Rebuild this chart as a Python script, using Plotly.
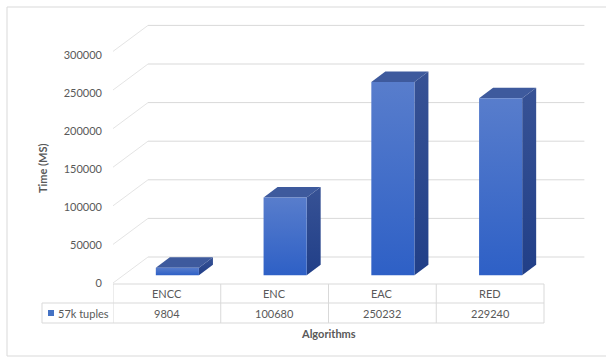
import plotly.graph_objects as go

# ---- data ----
algorithms = ["ENCC", "ENC", "EAC", "RED"]
times_57k = [9804, 100680, 250232, 229240]
series_name = "57k tuples"
y_ticks = [0, 50000, 100000, 150000, 200000, 250000, 300000]

# ---- geometry of the pseudo-3D view ----
W, H = 606, 358
PLOT_LEFT = 113          # px, front-left corner of the floor
FLOOR_FRONT = 283        # px, front edge of the floor (value 0)
PX_PER_CAT = 107.75
UNITS_PER_PX = 50000 / 38.6
LABEL_UNITS_PER_PX = 50000 / 38.0    # tick labels sit on the front edge
DEPTH_X = 35 / PX_PER_CAT            # category units across full depth
DEPTH_Y = 26 * UNITS_PER_PX          # value units across full depth
BAR_FRONT, BAR_BACK = 0.30, 0.70     # bar depth (fraction of floor)
BAR_HALF = 0.20

TEXT = "#595959"
GRID = "#D9D9D9"
FONT = "Lato"


def proj(x, v, d):
    return x + DEPTH_X * d, v + DEPTH_Y * d


def poly(points):
    xs, ys = [], []
    for x, v, d in points + [points[0]]:
        px, py = proj(x, v, d)
        xs.append(px)
        ys.append(py)
    return xs, ys


def px2paper(px, py):
    return px / W, 1 - py / H


fig = go.Figure()

# walls: side-wall diagonals and back-wall gridlines
n_cat = len(algorithms)
for v in y_ticks:
    xs, ys = poly([(-0.5, v, 0), (-0.5, v, 1)])
    fig.add_trace(go.Scatter(x=xs[:2], y=ys[:2], mode="lines",
                             line=dict(color="#E4E4E4", width=1), hoverinfo="skip"))
    xs, ys = poly([(-0.5, v, 1), (n_cat - 0.45, v, 1)])
    fig.add_trace(go.Scatter(x=xs[:2], y=ys[:2], mode="lines",
                             line=dict(color=GRID, width=1), hoverinfo="skip"))

# bars
for i, v in enumerate(times_57k):
    x0, x1 = i - BAR_HALF, i + BAR_HALF
    # right side face
    xs, ys = poly([(x1, 0, BAR_FRONT), (x1, 0, BAR_BACK), (x1, v, BAR_BACK), (x1, v, BAR_FRONT)])
    fig.add_trace(go.Scatter(x=xs, y=ys, mode="lines", fill="toself", line=dict(width=0),
                             fillgradient=dict(type="vertical",
                                               colorscale=[[0, "#213F88"], [1, "#375295"]]),
                             hoverinfo="skip"))
    # top face
    xs, ys = poly([(x0, v, BAR_FRONT), (x1, v, BAR_FRONT), (x1, v, BAR_BACK), (x0, v, BAR_BACK)])
    fig.add_trace(go.Scatter(x=xs, y=ys, mode="lines", fill="toself", line=dict(width=0),
                             fillcolor="#3E5A9D", hoverinfo="skip"))
    # front face
    xs, ys = poly([(x0, 0, BAR_FRONT), (x1, 0, BAR_FRONT), (x1, v, BAR_FRONT), (x0, v, BAR_FRONT)])
    fig.add_trace(go.Scatter(x=xs, y=ys, mode="lines", fill="toself", line=dict(width=0),
                             fillgradient=dict(type="vertical",
                                               colorscale=[[0, "#2E60C6"], [1, "#587DCC"]]),
                             hoverinfo="skip"))

# invisible trace carrying the front-edge value labels
fig.add_trace(go.Scatter(x=[None], y=[None], yaxis="y2", hoverinfo="skip"))

shapes = []
annotations = []

# data table under the floor
row_top, row_mid, row_bot = 284, 303, 323
legend_left = 42
table_right_x = n_cat - 0.5


def hline(x0, x1, py, xref="paper"):
    yp = 1 - py / H
    return dict(type="line", xref=xref, yref="paper", x0=x0, x1=x1, y0=yp, y1=yp,
                line=dict(color=GRID, width=1))


def vline(x, py0, py1, xref="x"):
    return dict(type="line", xref=xref, yref="paper", x0=x, x1=x,
                y0=1 - py0 / H, y1=1 - py1 / H, line=dict(color=GRID, width=1))


def label(x, py, text, xref="x", xanchor="center", **kw):
    return dict(x=x, y=1 - py / H, xref=xref, yref="paper", text=text, showarrow=False,
                xanchor=xanchor, yanchor="middle",
                font=dict(size=11, color=TEXT, family=FONT), **kw)


shapes.append(hline(-0.5, table_right_x, row_top, xref="x"))
shapes.append(hline(-0.5, table_right_x, row_mid, xref="x"))
shapes.append(hline(legend_left / W, PLOT_LEFT / W, row_mid))
shapes.append(hline(legend_left / W, PLOT_LEFT / W, row_bot))
shapes.append(hline(-0.5, table_right_x, row_bot, xref="x"))
for k in range(n_cat + 1):
    shapes.append(vline(k - 0.5, row_top, row_bot))
shapes.append(vline(legend_left / W, row_mid, row_bot, xref="paper"))

for i, (name, v) in enumerate(zip(algorithms, times_57k)):
    annotations.append(label(i, (row_top + row_mid) / 2, name))
    annotations.append(label(i, (row_mid + row_bot) / 2, str(v)))

# legend key inside the table
kx0, ky0 = px2paper(48, 316)
kx1, ky1 = px2paper(54, 310)
shapes.append(dict(type="rect", xref="paper", yref="paper", x0=kx0, y0=ky0, x1=kx1, y1=ky1,
                   fillcolor="#4472C4", line=dict(width=0)))
annotations.append(label(56 / W, (row_mid + row_bot) / 2, series_name, xref="paper", xanchor="left"))

# axis titles
annotations.append(label(328 / W, 333, "<b>Algorithms</b>", xref="paper"))
annotations.append(label(43 / W, 168, "<b>Time (MS)</b>", xref="paper", textangle=-90))

# chart frame
shapes.append(dict(type="rect", xref="paper", yref="paper", x0=7 / W, y0=1 - 356 / H,
                   x1=1.05, y1=1 - 7 / H, line=dict(color="#D9D9D9", width=1)))

x_min = -0.5
x_max = x_min + (W - PLOT_LEFT) / PX_PER_CAT
y_min = -(H - FLOOR_FRONT) * UNITS_PER_PX
y_max = y_min + H * UNITS_PER_PX
y2_min = -(H - FLOOR_FRONT) * LABEL_UNITS_PER_PX
y2_max = y2_min + H * LABEL_UNITS_PER_PX

fig.update_layout(
    width=W, height=H,
    margin=dict(l=0, r=0, t=0, b=0),
    paper_bgcolor="white", plot_bgcolor="rgba(0,0,0,0)",
    showlegend=False,
    xaxis=dict(domain=[PLOT_LEFT / W, 1], range=[x_min, x_max], visible=False, fixedrange=True),
    yaxis=dict(domain=[0, 1], range=[y_min, y_max], visible=False, fixedrange=True),
    yaxis2=dict(domain=[0, 1], range=[y2_min, y2_max], overlaying="y", side="left",
                anchor="x", tickvals=y_ticks, ticktext=[str(t) for t in y_ticks],
                showgrid=False, zeroline=False, showline=False, ticks="",
                ticklabelstandoff=10, tickfont=dict(size=11, color=TEXT, family=FONT),
                fixedrange=True),
    shapes=shapes,
    annotations=annotations,
)

fig.write_html("out.html")
